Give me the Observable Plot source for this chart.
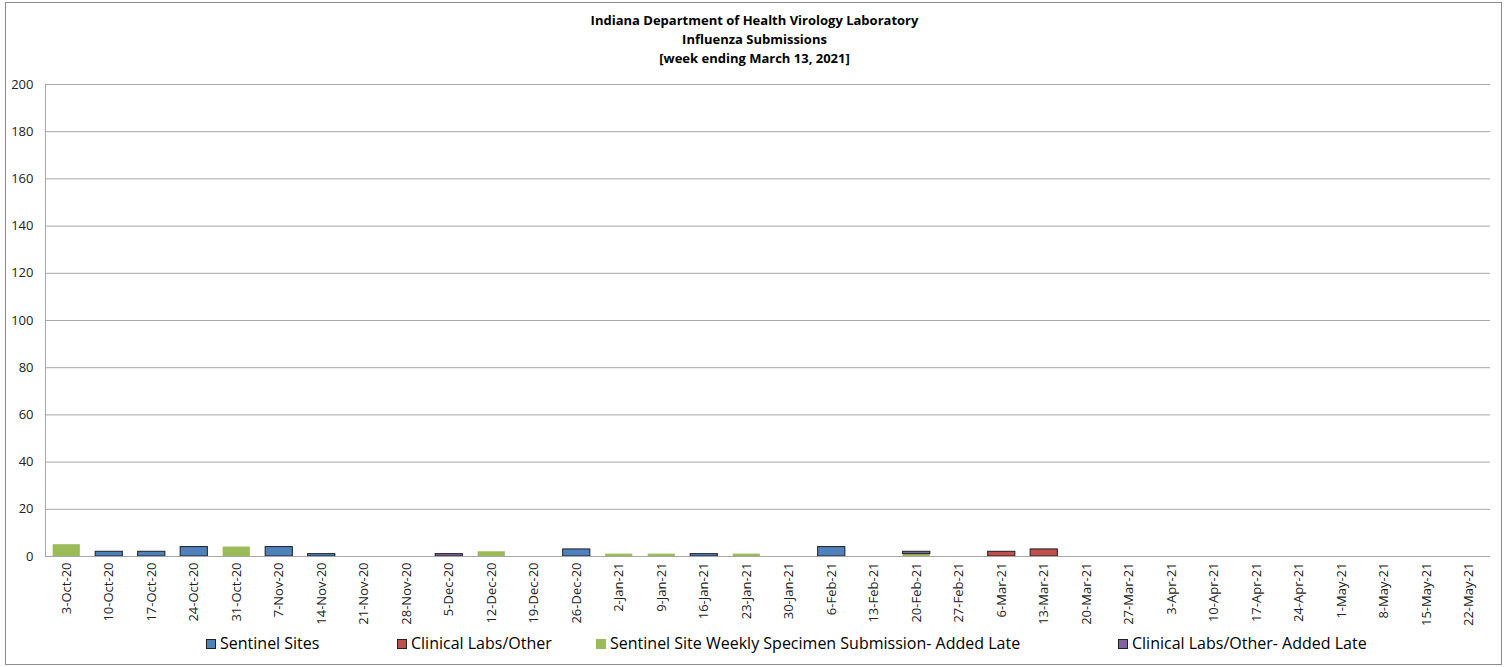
<!DOCTYPE html>
<html>
<head>
<meta charset="utf-8">
<script src="https://cdn.jsdelivr.net/npm/d3@7"></script>
<script src="https://cdn.jsdelivr.net/npm/@observablehq/plot@0.6"></script>
<style>
  body { margin: 0; background: #fff; font-family: "Open Sans", sans-serif; }
  #frame { position: absolute; left: 5px; top: 2px; width: 1497px; height: 663px; border: 1px solid #8c8c8c; box-sizing: border-box; }
  #title { position: absolute; left: 0; top: 11px; width: 1509px; text-align: center; font-weight: bold; font-size: 13px; line-height: 19px; color: #000; }
  #chart { position: absolute; left: 0; top: 68px; }
  #legend { position: absolute; top: 632px; left: 0; width: 1509px; height: 22px; font-size: 16px; color: #000; }
  .li { position: absolute; top: 0; line-height: 22px; white-space: nowrap; }
  .sw { display: inline-block; width: 10px; height: 10px; box-sizing: border-box; border: 1px solid #222; vertical-align: 0px; margin-right: 4px; }
</style>
</head>
<body>
<div id="frame"></div>
<div id="title">Indiana Department of Health Virology Laboratory<br>Influenza Submissions<br>[week ending March 13, 2021]</div>
<div id="chart"></div>
<div id="legend"></div>
<script>
const weeks = ["3-Oct-20","10-Oct-20","17-Oct-20","24-Oct-20","31-Oct-20","7-Nov-20","14-Nov-20","21-Nov-20","28-Nov-20","5-Dec-20","12-Dec-20","19-Dec-20","26-Dec-20","2-Jan-21","9-Jan-21","16-Jan-21","23-Jan-21","30-Jan-21","6-Feb-21","13-Feb-21","20-Feb-21","27-Feb-21","6-Mar-21","13-Mar-21","20-Mar-21","27-Mar-21","3-Apr-21","10-Apr-21","17-Apr-21","24-Apr-21","1-May-21","8-May-21","15-May-21","22-May-21"];
const sentinelSites    = [0,2,2,4,0,4,1,0,0,0,0,0,3,0,0,1,0,0,4,0,0,0,0,0,0,0,0,0,0,0,0,0,0,0];
const clinicalLabs     = [0,0,0,0,0,0,0,0,0,0,0,0,0,0,0,0,0,0,0,0,0,0,2,3,0,0,0,0,0,0,0,0,0,0];
const sentinelLate     = [5,0,0,0,4,0,0,0,0,0,2,0,0,1,1,0,1,0,0,0,1,0,0,0,0,0,0,0,0,0,0,0,0,0];
const clinicalLate     = [0,0,0,0,0,0,0,0,0,1,0,0,0,0,0,0,0,0,0,0,1,0,0,0,0,0,0,0,0,0,0,0,0,0];
const seriesNames  = ["Sentinel Sites","Clinical Labs/Other","Sentinel Site Weekly Specimen Submission- Added Late","Clinical Labs/Other- Added Late"];
const seriesColors = ["#4f81bd","#c0504d","#9bbb59","#8064a2"];
const seriesOutlined = [1,1,0,1];
const yTicks = [0,20,40,60,80,100,120,140,160,180,200];

const seriesValues = [sentinelSites, clinicalLabs, sentinelLate, clinicalLate];
const rows = [];
weeks.forEach((w, i) => {
  seriesValues.forEach((vals, s) => {
    if (vals[i] > 0) rows.push({week: w, series: seriesNames[s], value: vals[i], outline: seriesOutlined[s]});
  });
});

const plot = Plot.plot({
  width: 1509,
  height: 558,
  marginTop: 16,
  marginLeft: 45,
  marginRight: 19,
  marginBottom: 70,
  style: {fontFamily: "'Open Sans', sans-serif", fontSize: "13px", color: "#222", background: "transparent"},
  x: {domain: weeks, round: false, paddingInner: 0.36, paddingOuter: 0.18, label: null, tickSize: 0, tickPadding: 6, tickRotate: -90},
  y: {domain: [0, 200], ticks: yTicks, label: null, tickSize: 0, tickPadding: 12},
  color: {domain: seriesNames, range: seriesColors},
  opacity: {domain: [0, 1], range: [0, 1]},
  marks: [
    Plot.gridY(yTicks, {stroke: "#a6a6a6", strokeOpacity: 1}),
    Plot.ruleX([weeks[0]], {stroke: "#a6a6a6", dx: -21.25}),
    Plot.barY(rows, {x: "week", y: "value", fill: "series", stroke: "#1f1f1f", strokeWidth: 1, strokeOpacity: "outline", order: seriesNames}),
    Plot.ruleY([0], {stroke: "#a6a6a6"})
  ]
});
document.getElementById("chart").appendChild(plot);

const legendX = [206, 397, 596, 1118];
const legend = document.getElementById("legend");
seriesNames.forEach((name, i) => {
  const d = document.createElement("div");
  d.className = "li";
  d.style.left = legendX[i] + "px";
  const sw = document.createElement("span");
  sw.className = "sw";
  sw.style.background = seriesColors[i];
  if (!seriesOutlined[i]) sw.style.border = "none";
  d.appendChild(sw);
  d.appendChild(document.createTextNode(name));
  legend.appendChild(d);
});
</script>
</body>
</html>
